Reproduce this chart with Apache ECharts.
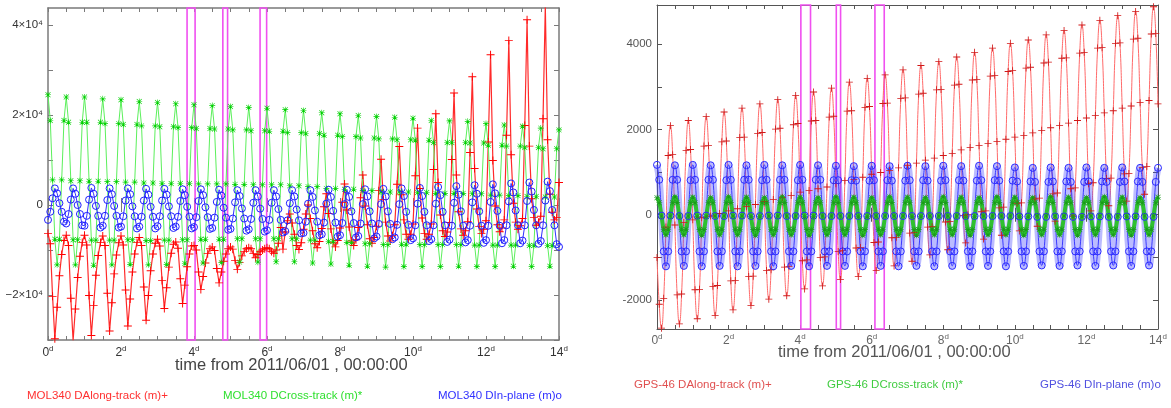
<!DOCTYPE html>
<html><head><meta charset="utf-8">
<script src="https://cdn.jsdelivr.net/npm/echarts@6/dist/echarts.min.js"></script>
<style>html,body{margin:0;padding:0;background:#fff}#c{width:1171px;height:408px}</style>
</head><body><div id="c"></div>
<script>
// sampling interval of every series, in days (time from 2011/06/01 00:00:00)
const STEP_DAYS = 0.0625;

const X_MAJOR = [0, 2, 4, 6, 8, 10, 12, 14];
const X_MINOR = [0,0.5,1,1.5,2,2.5,3,3.5,4,4.5,5,5.5,6,6.5,7,7.5,8,8.5,9,9.5,10,10.5,11,11.5,12,12.5,13,13.5,14];
const YL_TICKS = [-30000,-20000,-10000,0,10000,20000,30000,40000];
const YL_LABEL_VALUES = [-20000, 0, 20000, 40000];
const YL_LABELS = ['\u22122\u00d710\u2074', '0', '2\u00d710\u2074', '4\u00d710\u2074'];
const YR_TICKS = [-2000,-1000,0,1000,2000,3000,4000];
const YR_LABEL_VALUES = [-2000, 0, 2000, 4000];

const NAMES_L = ['MOL340 DAlong-track (m)+', 'MOL340 DCross-track (m)*', 'MOL340 DIn-plane (m)o'];
const NAMES_R = ['GPS-46 DAlong-track (m)+', 'GPS-46 DCross-track (m)*', 'GPS-46 DIn-plane (m)o'];
const AXIS_TITLE = 'time from 2011/06/01 , 00:00:00';

// highlighted time windows (days)
const WINDOWS_L = [[3.81, 4.03], [4.79, 4.92], [5.81, 5.99]];
const WINDOWS_R = [[4.02, 4.29], [5.01, 5.13], [6.09, 6.35]];

// ---------- MOL340 (left panel), metres ----------
const MOL_ALONG = [
-6300,-8600,-20300,-29700,-22700,-15700,-11000,-7900,
-6700,-9000,-20700,-30100,-23100,-16100,-11400,-8300,
-6700,-8900,-20100,-29000,-22300,-15600,-11200,-8300,
-6900,-9000,-19600,-28000,-21700,-15300,-11100,-8400,
-6900,-8900,-18900,-26900,-20900,-14900,-10900,-8300,
-7200,-9000,-18200,-25600,-20100,-14600,-10900,-8500,
-7600,-9100,-16800,-23000,-18400,-13800,-10700,-8700,
-8200,-9600,-16400,-21900,-17800,-13700,-10900,-9100,
-9000,-10000,-14900,-18800,-15900,-12900,-10800,-9700,
-9300,-10100,-14100,-17300,-14900,-12500,-10900,-9700,
-9300,-9800,-12300,-14300,-12800,-11300,-10300,-9700,
-9500,-9700,-10800,-11700,-11000,-10400,-10000,-9700,
-9500,-9700,-10300,-10700,-10000,-8500,-5000,-9800,
-6000,-3500,-2000,-4000,-6500,-9000,-9900,-8400,
-5400,-2000,0,-3000,-5700,-8600,-9500,-8100,
-5200,-400,2500,-1900,-5300,-8300,-9300,-7900,
-5100,600,4700,-1100,-4900,-8000,-9000,-7700,
-5000,1600,6700,-200,-4400,-7500,-8500,-7200,
-4700,3200,10200,1200,-3800,-6900,-8000,-6800,
-4400,4600,13000,2300,-3300,-6500,-7600,-6500,
-4200,6500,17100,3700,-2900,-6300,-7600,-6500,
-4200,7900,20300,5000,-2200,-5700,-7000,-6000,
-3900,10100,24900,6700,-1500,-5300,-6700,-5700,
-3700,11700,28500,8100,-900,-4800,-6300,-5400,
-3500,14000,33400,9900,-200,-4400,-5950,-5100,
-3300,15500,36600,11200,400,-3800,-5400,-4600,
-3000,17700,41200,13100,1400,-2800,-4500,-3800,
-2500,19200,44300,14500,2400,-1600,-3300,-2800,
5000];

const MOL_CROSS = [
24500,18800,5600,-7600,-13300,-7600,5600,18800,
24000,18400,5400,-7700,-13300,-7700,5400,18400,
24000,18400,5300,-7800,-13400,-7800,5300,18400,
23600,18100,5200,-7800,-13300,-7800,5200,18100,
23400,17900,5100,-7700,-13200,-7700,5100,17900,
23000,17600,4900,-7900,-13300,-7900,4900,17600,
22800,17400,4800,-7800,-13200,-7800,4800,17400,
22500,17200,4800,-7700,-13000,-7700,4800,17200,
22300,17000,4700,-7600,-12900,-7600,4700,17000,
22100,16900,4700,-7600,-12800,-7600,4700,16900,
21900,16700,4600,-7500,-12700,-7500,4600,16700,
21700,16500,4500,-7500,-12700,-7500,4500,16500,
21500,16400,4500,-7500,-12600,-7500,4500,16400,
21200,16100,4300,-7500,-12600,-7500,4300,16100,
21000,15900,4100,-7800,-12900,-7800,4100,15900,
20500,15500,3700,-8100,-13100,-8100,3700,15500,
20300,15200,3500,-8300,-13400,-8300,3500,15200,
19900,14900,3200,-8600,-13600,-8600,3200,14900,
19700,14700,2900,-8800,-13800,-8800,2900,14700,
19500,14500,2900,-8700,-13700,-8700,2900,14500,
19300,14400,2800,-8800,-13700,-8800,2800,14400,
18800,13900,2600,-8800,-13700,-8800,2600,13900,
18700,13900,2600,-8800,-13600,-8800,2600,13900,
18600,13800,2500,-8900,-13700,-8900,2500,13800,
18100,13300,2200,-8900,-13700,-8900,2200,13300,
17800,13100,2100,-8900,-13600,-8900,2100,13100,
17500,12800,1900,-9000,-13700,-9000,1900,12800,
17100,12500,1800,-9000,-13600,-9000,1800,12500,
16700];

const MOL_INPLANE = [
-3300,-1500,1500,3700,2600,400,-1500,-3700,
-4100,-2000,1200,3700,2500,0,-2000,-4500,
-4600,-2400,1200,3800,2500,-200,-2400,-5000,
-4600,-2400,1100,3700,2400,-200,-2400,-5000,
-4800,-2500,1000,3700,2400,-300,-2500,-5200,
-4800,-2600,1000,3600,2300,-400,-2600,-5200,
-4700,-2500,1000,3600,2300,-300,-2500,-5100,
-4800,-2600,900,3500,2200,-400,-2600,-5200,
-4900,-2700,900,3500,2200,-500,-2700,-5300,
-5100,-2800,700,3400,2100,-600,-2800,-5500,
-5300,-3000,600,3300,2000,-750,-3000,-5700,
-5400,-3100,500,3300,1900,-800,-3100,-5900,
-5600,-3300,500,3300,1900,-900,-3300,-6100,
-5800,-3400,400,3300,1900,-1000,-3400,-6300,
-6200,-3700,300,3300,1800,-1200,-3700,-6700,
-6500,-3900,300,3400,1800,-1300,-3900,-7000,
-6700,-4000,200,3400,1800,-1400,-4000,-7200,
-6900,-4100,200,3500,1900,-1400,-4100,-7400,
-7000,-4200,200,3600,1900,-1400,-4200,-7600,
-7200,-4400,200,3700,2000,-1500,-4400,-7800,
-7400,-4500,300,3800,2000,-1500,-4500,-8000,
-7600,-4500,300,4000,2200,-1500,-4500,-8200,
-7700,-4600,500,4200,2300,-1400,-4600,-8300,
-7800,-4600,600,4400,2500,-1400,-4600,-8400,
-7800,-4600,700,4600,2600,-1300,-4600,-8500,
-7800,-4500,800,4800,2800,-1200,-4500,-8500,
-7900,-4500,900,5000,3000,-1100,-4500,-8600,
-8000,-4500,1000,5200,3100,-1100,-4500,-8700,
-9300];

// ---------- GPS-46 (right panel), metres ----------
const GPS_ALONG = [
-1000,-2100,-2660,-1960,-290,1390,2090,1410,
-240,-1880,-2560,-1860,-180,1510,2210,1530,
-120,-1760,-2440,-1750,-70,1610,2300,1620,
-30,-1680,-2360,-1660,30,1710,2410,1730,
90,-1550,-2230,-1540,140,1810,2500,1820,
190,-1450,-2130,-1440,240,1910,2600,1930,
310,-1310,-1980,-1290,360,2010,2700,2030,
400,-1230,-1900,-1210,450,2110,2800,2140,
530,-1080,-1740,-1060,570,2200,2880,2210,
610,-1000,-1670,-990,650,2290,2970,2310,
730,-860,-1520,-840,800,2430,3110,2440,
830,-780,-1450,-770,880,2520,3200,2540,
950,-650,-1310,-640,990,2610,3280,2620,
1040,-540,-1200,-530,1100,2730,3400,2740,
1160,-430,-1090,-420,1210,2830,3500,2850,
1280,-290,-940,-280,1330,2930,3590,2940,
1390,-170,-820,-160,1440,3040,3700,3060,
1520,-20,-660,0,1580,3160,3810,3170,
1620,70,-570,90,1670,3250,3910,3270,
1720,160,-480,180,1770,3360,4020,3380,
1820,270,-380,280,1860,3440,4100,3460,
1920,370,-270,390,1980,3560,4220,3580,
2040,490,-150,510,2090,3670,4320,3680,
2150,610,-30,630,2210,3790,4450,3810,
2270,730,90,750,2330,3910,4560,3920,
2390,850,210,860,2440,4020,4670,4030,
2500,960,320,970,2550,4120,4770,4140,
2630,1110,480,1130,2680,4240,4880,4250,
2600];

const GPS_CROSS = [
400,280,-30,-340,-470,-340,-30,280,
420,290,-30,-340,-470,-340,-30,280,
410,280,-40,-350,-480,-350,-40,280,
400,280,-30,-340,-470,-340,-30,280,
420,290,-30,-340,-470,-340,-30,280,
410,280,-40,-350,-480,-350,-40,280,
400,280,-30,-340,-470,-340,-30,280,
420,290,-30,-340,-470,-340,-30,280,
410,280,-40,-350,-480,-350,-40,280,
400,280,-30,-340,-470,-340,-30,280,
420,290,-30,-340,-470,-340,-30,280,
410,280,-40,-350,-480,-350,-40,280,
400,280,-30,-340,-470,-340,-30,280,
420,290,-30,-340,-470,-340,-30,280,
410,280,-40,-350,-480,-350,-40,280,
400,280,-30,-340,-470,-340,-30,280,
420,290,-30,-340,-470,-340,-30,280,
410,280,-40,-350,-480,-350,-40,280,
400,280,-30,-340,-470,-340,-30,280,
420,290,-30,-340,-470,-340,-30,280,
410,280,-40,-350,-480,-350,-40,280,
400,280,-30,-340,-470,-340,-30,280,
420,290,-30,-340,-470,-340,-30,280,
410,280,-40,-350,-480,-350,-40,280,
400,280,-30,-340,-470,-340,-30,280,
420,290,-30,-340,-470,-340,-30,280,
410,280,-40,-350,-480,-350,-40,280,
400,280,-30,-340,-470,-340,-30,280,
410];

const GPS_INPLANE = [
1170,820,-20,-860,-1210,-860,-20,820,
1160,820,-30,-860,-1200,-860,-30,810,
1170,820,-20,-860,-1210,-860,-20,820,
1160,820,-30,-860,-1200,-860,-30,810,
1170,820,-20,-860,-1210,-860,-20,820,
1160,820,-30,-860,-1200,-860,-30,810,
1170,820,-20,-860,-1210,-860,-20,820,
1160,820,-30,-860,-1200,-860,-30,810,
1170,820,-20,-860,-1210,-860,-20,820,
1160,820,-30,-860,-1200,-860,-30,810,
1150,810,-30,-860,-1200,-860,-30,810,
1140,800,-30,-860,-1210,-860,-30,800,
1150,810,-30,-860,-1200,-860,-30,810,
1140,800,-30,-860,-1210,-860,-30,800,
1150,810,-30,-860,-1200,-860,-30,810,
1140,800,-30,-860,-1210,-860,-30,800,
1150,810,-30,-860,-1200,-860,-30,810,
1140,800,-30,-860,-1210,-860,-30,800,
1150,810,-30,-860,-1200,-860,-30,810,
1140,800,-30,-860,-1210,-860,-30,800,
1110,780,-40,-860,-1200,-860,-40,780,
1100,770,-50,-860,-1190,-860,-50,770,
1110,780,-40,-860,-1200,-860,-40,780,
1100,770,-50,-860,-1190,-860,-50,770,
1110,780,-40,-860,-1200,-860,-40,780,
1100,770,-50,-860,-1190,-860,-50,770,
1110,780,-40,-860,-1200,-860,-40,780,
1100,770,-50,-860,-1190,-860,-50,770,
1100];

// ---------- rendering ----------
const pts = arr => arr.map((v, i) => [i * STEP_DAYS, v]);
const PLUS = 'path://M4.4,0H5.6V4.4H10V5.6H5.6V10H4.4V5.6H0V4.4H4.4Z';
const STAR = 'path://M4.5,0H5.5V10H4.5Z M0,4.5H10V5.5H0Z M1.2,0.5L9.5,8.8L8.8,9.5L0.5,1.2Z M8.8,0.5L9.5,1.2L1.2,9.5L0.5,8.8Z';
const FONT = 'Liberation Sans';

// ticks pointing into the plot (negative length)
function tick(vals, color, len) { return { show: true, inside: false, length: -len, customValues: vals, lineStyle: { color: color } }; }

function xAxesFor(gi, lblColor, margin, lineColor, lineW) {
  const rich = {
    n: { fontSize: 12, color: lblColor, fontFamily: FONT, lineHeight: 16 },
    s: { fontSize: 8, color: lblColor, fontFamily: FONT, lineHeight: 9, verticalAlign: 'top' }
  };
  const line = { show: true, onZero: false, lineStyle: { color: lineColor, width: lineW } };
  const base = { gridIndex: gi, type: 'value', min: 0, max: 14, splitLine: { show: false } };
  return [
    Object.assign({}, base, { position: 'bottom', axisLine: line, axisTick: tick(X_MINOR, lineColor, 4),
      axisLabel: { customValues: X_MAJOR, margin: margin, formatter: v => '{n|' + v + '}{s|d}', rich: rich } }),
    Object.assign({}, base, { position: 'top', axisLine: line, axisTick: tick(X_MINOR, lineColor, 4), axisLabel: { show: false } }),
    Object.assign({}, base, { position: 'bottom', axisLine: { show: false }, axisTick: tick(X_MAJOR, lineColor, 7), axisLabel: { show: false } }),
    Object.assign({}, base, { position: 'top', axisLine: { show: false }, axisTick: tick(X_MAJOR, lineColor, 7), axisLabel: { show: false } })
  ];
}
function yAxesFor(gi, min, max, ticks, lblValues, fmt, lblColor, lineColor, lineW) {
  const line = { show: true, onZero: false, lineStyle: { color: lineColor, width: lineW } };
  const base = { gridIndex: gi, type: 'value', min: min, max: max, splitLine: { show: false } };
  return [
    Object.assign({}, base, { position: 'left', axisLine: line, axisTick: tick(ticks, lineColor, 5),
      axisLabel: { customValues: lblValues, formatter: fmt, margin: 5, color: lblColor, fontSize: 11.5, fontFamily: FONT } }),
    Object.assign({}, base, { position: 'right', axisLine: line, axisTick: tick(ticks, lineColor, 5), axisLabel: { show: false } })
  ];
}
function mark(wins) {
  return { silent: true, itemStyle: { color: 'rgba(0,0,0,0)', borderColor: '#f050f0', borderWidth: 1.6 },
    data: wins.map(w => [{ xAxis: w[0] }, { xAxis: w[1] }]) };
}
function line(name, data, xi, yi, o) {
  return Object.assign({ name: name, type: 'line', data: pts(data), xAxisIndex: xi, yAxisIndex: yi,
    showSymbol: true, showAllSymbol: true, animation: false, clip: true }, o);
}

const chart = echarts.init(document.getElementById('c'), null, { renderer: 'canvas' });
chart.setOption({
  backgroundColor: '#fff',
  animation: false,
  grid: [
    { left: 48, top: 8, width: 511, height: 332, show: false, containLabel: false, outerBoundsMode: 'none' },
    { left: 657, top: 5, width: 501, height: 324, show: false, containLabel: false, outerBoundsMode: 'none' }
  ],
  xAxis: [].concat(xAxesFor(0, '#333', 5, '#7a7a7a', 1.5), xAxesFor(1, '#666', 4, '#555', 1)),
  yAxis: [].concat(
    yAxesFor(0, -30000, 43800, YL_TICKS, YL_LABEL_VALUES, v => YL_LABELS[YL_LABEL_VALUES.indexOf(v)], '#333', '#7a7a7a', 1.5),
    yAxesFor(1, -2680, 4920, YR_TICKS, YR_LABEL_VALUES, v => String(v), '#555', '#555', 1)),
  series: [
    line(NAMES_L[0], MOL_ALONG, 0, 0, { symbol: PLUS, symbolSize: 8, lineStyle: { color: '#ff2a2a', width: 1.2 },
      itemStyle: { color: '#ff0000' }, markArea: mark(WINDOWS_L) }),
    line(NAMES_L[1], MOL_CROSS, 0, 0, { symbol: STAR, symbolSize: 6, lineStyle: { color: '#5cf05c', width: 1 },
      itemStyle: { color: '#00d000' } }),
    line(NAMES_L[2], MOL_INPLANE, 0, 0, { symbol: 'circle', symbolSize: 7, lineStyle: { color: '#3030ff', width: 1 },
      itemStyle: { color: 'rgba(0,0,0,0)', borderColor: '#2020ff', borderWidth: 1 } }),

    line(NAMES_R[0], GPS_ALONG, 4, 2, { symbol: PLUS, symbolSize: 7, smooth: true, lineStyle: { color: '#ff6a6a', width: 1 },
      itemStyle: { color: '#d01818' }, markArea: mark(WINDOWS_R) }),
    line(NAMES_R[2] + ' band', GPS_INPLANE, 4, 2, { showSymbol: false, smooth: true,
      lineStyle: { color: 'rgba(60,60,255,0.35)', width: 7 } }),
    line(NAMES_R[2], GPS_INPLANE, 4, 2, { symbol: 'circle', symbolSize: 7, smooth: true, lineStyle: { color: '#3a3aff', width: 1 },
      itemStyle: { color: 'rgba(0,0,0,0)', borderColor: '#2a2aff', borderWidth: 1 } }),
    line(NAMES_R[1], GPS_CROSS, 4, 2, { symbol: STAR, symbolSize: 6, smooth: true, lineStyle: { color: '#2fc02f', width: 4 },
      itemStyle: { color: '#1a9a1a' } })
  ],
  graphic: [
    { type: 'text', left: 175, top: 357, style: { text: AXIS_TITLE, fill: '#444', font: '16.5px "Liberation Sans"' } },
    { type: 'text', left: 778, top: 344, style: { text: AXIS_TITLE, fill: '#555', font: '16.5px "Liberation Sans"' } },
    { type: 'text', left: 27, top: 390, style: { text: NAMES_L[0], fill: '#ff3030', font: '11.5px "Liberation Sans"' } },
    { type: 'text', left: 223, top: 390, style: { text: NAMES_L[1], fill: '#30e030', font: '11.5px "Liberation Sans"' } },
    { type: 'text', left: 438, top: 390, style: { text: NAMES_L[2], fill: '#3030ff', font: '11.5px "Liberation Sans"' } },
    { type: 'text', left: 634, top: 379, style: { text: NAMES_R[0], fill: '#e05050', font: '11.5px "Liberation Sans"' } },
    { type: 'text', left: 827, top: 379, style: { text: NAMES_R[1], fill: '#40cc40', font: '11.5px "Liberation Sans"' } },
    { type: 'text', left: 1040, top: 379, style: { text: NAMES_R[2], fill: '#5050e0', font: '11.5px "Liberation Sans"' } }
  ]
});
</script>
</body></html>
